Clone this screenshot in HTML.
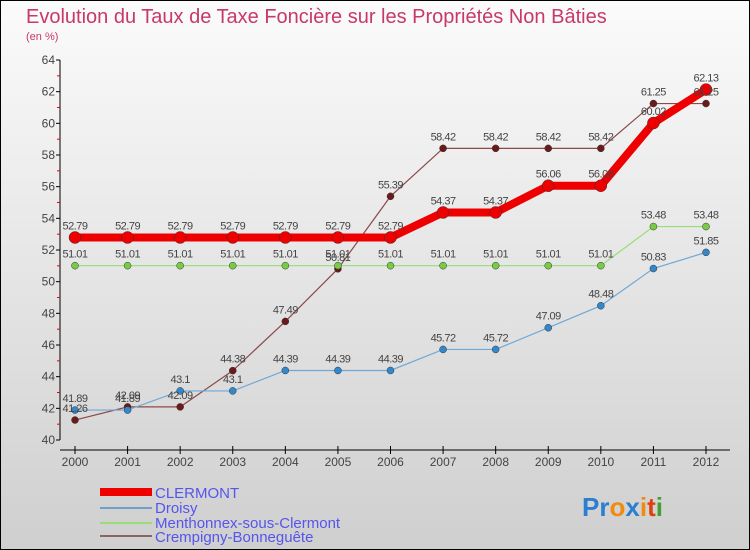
<!DOCTYPE html>
<html><head><meta charset="utf-8"><style>
body{margin:0}
svg{display:block;font-family:"Liberation Sans",sans-serif}
</style></head><body>
<svg width="750" height="550" viewBox="0 0 750 550">
<defs><linearGradient id="bg" x1="0" y1="0" x2="0" y2="1"><stop offset="0" stop-color="#fbfbfb"/><stop offset="1" stop-color="#cfcfcf"/></linearGradient></defs>
<rect x="0.5" y="0.5" width="749" height="549" fill="url(#bg)" stroke="#000"/>
<text x="26" y="23" font-size="20" fill="#c8386a">Evolution du Taux de Taxe Foncière sur les Propriétés Non Bâties</text>
<text x="26" y="40" font-size="11" fill="#c8386a">(en %)</text>
<g id="axes"></g>
<g id="series"></g>
<g id="labels"></g>
<g>
<rect x="100" y="488" width="52" height="8" fill="#e00"/>
<text x="155" y="498" font-size="15" fill="#5555ee">CLERMONT</text>
<rect x="100" y="507" width="52" height="2" fill="#6fa0c8"/>
<text x="155" y="513" font-size="15" fill="#5555ee">Droisy</text>
<rect x="100" y="522" width="52" height="2" fill="#99dd77"/>
<text x="155" y="528" font-size="15" fill="#5555ee">Menthonnex-sous-Clermont</text>
<rect x="100" y="535" width="52" height="2" fill="#8b6464"/>
<text x="155" y="542" font-size="15" fill="#5555ee">Crempigny-Bonneguête</text>
</g>
<g font-size="26" font-weight="bold">
<text x="582" y="516"><tspan fill="#2a7fd0">Pr</tspan><tspan fill="#f08a10">o</tspan><tspan fill="#2a7fd0">x</tspan><tspan fill="#f08a10">i</tspan><tspan fill="#e04010">t</tspan><tspan fill="#40a030">i</tspan></text>
</g>
</svg>
<script>
const years=[2000,2001,2002,2003,2004,2005,2006,2007,2008,2009,2010,2011,2012];
const yTicks=[40,42,44,46,48,50,52,54,56,58,60,62,64];
const clermont=[52.79,52.79,52.79,52.79,52.79,52.79,52.79,54.37,54.37,56.06,56.06,60.02,62.13];
const droisy=[41.89,41.89,43.1,43.1,44.39,44.39,44.39,45.72,45.72,47.09,48.48,50.83,51.85];
const menthonnex=[51.01,51.01,51.01,51.01,51.01,51.01,51.01,51.01,51.01,51.01,51.01,53.48,53.48];
const crempigny=[41.26,42.09,42.09,44.38,47.49,50.81,55.39,58.42,58.42,58.42,58.42,61.25,61.25];
const NS="http://www.w3.org/2000/svg";
const X=i=>75+i*(706-75)/(years.length-1);
const Y=v=>440-(v-40)*(380/24);
function el(t,a,p){const e=document.createElementNS(NS,t);for(const k in a)e.setAttribute(k,a[k]);p.appendChild(e);return e;}
const axes=document.getElementById('axes'),ser=document.getElementById('series'),lab=document.getElementById('labels');
let a=el('line',{x1:60,y1:Y(64),x2:60,y2:440,stroke:'#000','stroke-width':1},axes);


a=el('line',{x1:60,y1:450,x2:730,y2:450,stroke:'#000','stroke-width':1},axes);


yTicks.forEach(v=>{
 el('line',{x1:56,y1:Y(v),x2:60,y2:Y(v),stroke:'#000'},axes);
 el('line',{x1:57,y1:Y(v+1),x2:60,y2:Y(v+1),stroke:'#e00'},axes).setAttribute('visibility',v<64?'visible':'hidden');
 const t=el('text',{x:55,y:Y(v)+4,'font-size':12,fill:'#444','text-anchor':'end'},axes);
 
 
 t.textContent=v;
});
years.forEach((yr,i)=>{
 el('line',{x1:X(i),y1:446,x2:X(i),y2:454,stroke:'#000'},axes);
 const t=el('text',{x:X(i),y:466,'font-size':12,fill:'#444','text-anchor':'middle'},axes);
 
 
 t.textContent=yr;
});
function draw(data,name,color,dot,w,r){
 const pl=el('polyline',{points:data.map((v,i)=>X(i)+','+Y(v)).join(' '),fill:'none',stroke:color,'stroke-width':w},ser);
 
 
 data.forEach((v,i)=>{
  const c=el('circle',{cx:X(i),cy:Y(v),r:r,fill:dot,stroke:'#333','stroke-width':0.5},ser);
  
  
  const t=el('text',{x:X(i),y:Y(v)-8,'font-size':11,fill:'#444','text-anchor':'middle','letter-spacing':'-0.5'},lab);
  
  
  t.textContent=v;
 });
}
draw(crempigny,'crempigny','#8b4a4a','#6b1a1a',1.2,3.5);
draw(menthonnex,'menthonnex','#99dd77','#77cc44',1.2,3.5);
draw(droisy,'droisy','#6fa8d8','#3388cc',1.2,3.5);
draw(clermont,'clermont','#ee0000','#ee0000',8,6);
</script>
</body></html>
